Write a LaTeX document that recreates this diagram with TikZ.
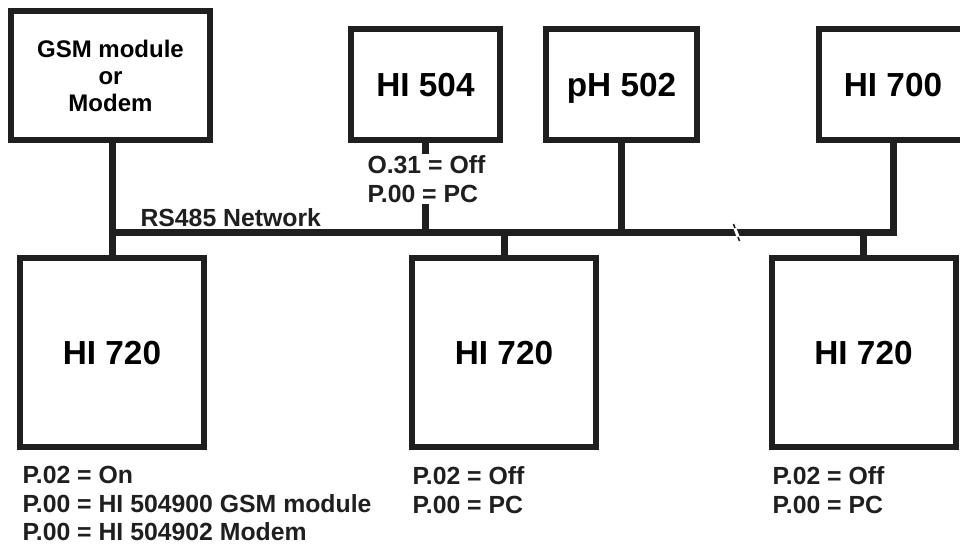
\documentclass[tikz,border=0pt]{standalone}
\usepackage{fontspec}
\setmainfont{Liberation Sans}

\tikzset{every picture/.style={line width=0.75pt}}
\tikzset{
  unitbox/.style={draw=black!88, line width=4.5pt, fill=white, inner sep=0pt, align=center,
    font=\bfseries\fontsize{25}{28}\selectfont},
  topunit/.style={unitbox, minimum width=111.75pt, minimum height=83.25pt, text depth=0pt},
  bigunit/.style={unitbox, minimum width=138pt, minimum height=141.75pt, text depth=0pt},
  setting/.style={anchor=west, inner sep=1.5pt, align=left, text=black!88,
    font=\bfseries\fontsize{18.6}{21.4}\selectfont},
  wire/.style={draw=black!88, line width=5.25pt, line join=miter},
}

\begin{document}
\begin{tikzpicture}[x=0.75pt,y=0.75pt,yscale=-1,xscale=1]
			\path [use as bounding box, clip] (0,0) rectangle (960,545);
			
			%Shape: Rectangle [id:gsm] 
			\node [unitbox, minimum width=149.25pt, minimum height=96.75pt,
			  font=\bfseries\fontsize{18}{20.25}\selectfont] (gsm) at (110.5,75.5) {GSM module\\or\\Modem};
			%Shape: Rectangle [id:hi504] 
			\node [topunit] (hi504) at (425.5,84.5) {HI 504};
			%Shape: Rectangle [id:ph502] 
			\node [topunit, minimum width=113.25pt] (ph502) at (621.5,84.5) {pH 502};
			%Shape: Rectangle [id:hi700] 
			\node [topunit, minimum width=111pt] (hi700) at (893,84.5) {HI 700};
			%Shape: Rectangle [id:hi720a] 
			\node [bigunit] (hi720a) at (112,352.5) {HI 720};
			%Shape: Rectangle [id:hi720b] 
			\node [bigunit] (hi720b) at (504,352.5) {HI 720};
			%Shape: Rectangle [id:hi720c] 
			\node [bigunit] (hi720c) at (863.5,352.5) {HI 720};
			
			%Bus ends
			\coordinate (busL) at (112,232.5);
			
			%Straight Lines [id:bus] 
			\draw [wire]  (busL) -- (hi700.south |- busL) -- (hi700.south) ;
			%Straight Lines [id:gsmline] 
			\draw [wire]  (hi720a.north |- gsm.south) -- (hi720a.north) ;
			%Straight Lines [id:hi504line] 
			\draw [wire]  (hi504.south) -- (hi504.south |- busL) ;
			%Straight Lines [id:ph502line] 
			\draw [wire]  (ph502.south) -- (ph502.south |- busL) ;
			%Straight Lines [id:drop2] 
			\draw [wire]  (hi720b.north |- busL) -- (hi720b.north) ;
			%Straight Lines [id:drop3] 
			\draw [wire]  (hi720c.north |- busL) -- (hi720c.north) ;
			
			%Break mark on the bus
			\draw [white, line width=2.2pt]  (734,226) -- (739,239) ;
			\draw [black!88, line width=1.2pt]  (733.5,224) -- (735,228) ;
			\draw [black!88, line width=1.2pt]  (738,237) -- (739.5,241) ;
			
			% Text Node
			\node [setting] (net) at (138,217.5) {RS485 Network};
			% Text Node
			\node [setting, fill=white] (set504) at (365,179) {O.31 = Off\\P.00 = PC};
			% Text Node
			\node [setting] (seta) at (20,503.5) {P.02 = On\\P.00 = HI 504900 GSM module\\P.00 = HI 504902 Modem};
			% Text Node
			\node [setting] (setb) at (410,490) {P.02 = Off\\P.00 = PC};
			% Text Node
			\node [setting] (setc) at (770,490) {P.02 = Off\\P.00 = PC};
\end{tikzpicture}
\end{document}
